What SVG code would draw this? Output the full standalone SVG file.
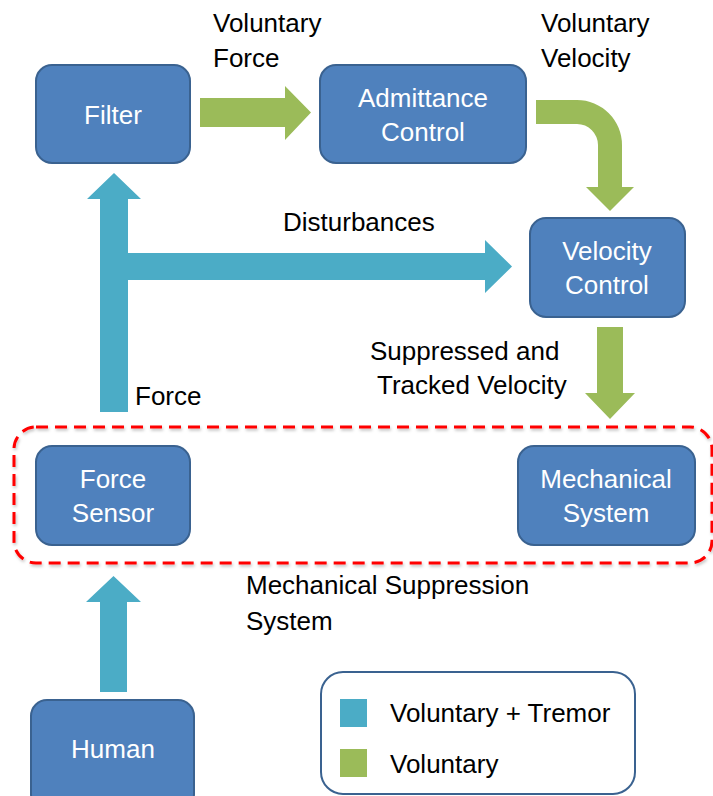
<svg xmlns="http://www.w3.org/2000/svg" width="713" height="796" viewBox="0 0 713 796">
  <style>
    .node { fill: #4F81BD; stroke: #3A6290; stroke-width: 2; }
    .ntext { font-family: "Liberation Sans", Arial, sans-serif; font-size: 26px; fill: #FFFFFF; text-anchor: middle; }
    .label { font-family: "Liberation Sans", Arial, sans-serif; font-size: 26px; fill: #000000; }
    .trem { fill: #4BACC6; }
    .vol { fill: #9BBB59; }
  </style>
  <defs>
    <filter id="soft" x="-5%" y="-5%" width="110%" height="115%">
      <feDropShadow dx="1" dy="2" stdDeviation="1.5" flood-color="#000000" flood-opacity="0.25"/>
    </filter>
  </defs>
  <rect width="713" height="796" fill="#FFFFFF"/>

  <!-- connectors -->
  <g id="connectors">
    <!-- Filter -> Admittance Control -->
    <polygon class="vol" points="200,98 285,98 285,86 311,112.5 285,140 285,127 200,127"/>
    <!-- Admittance Control -> Velocity Control (bent) -->
    <path class="vol" d="M536,100 L577,100 A45,45 0 0 1 622,145 L622,187 L634,187 L610,211 L586,187 L598,187 L598,145 A21,21 0 0 0 577,124 L536,124 Z"/>
    <!-- Velocity Control -> Mechanical System -->
    <polygon class="vol" points="597,327 623,327 623,393 635,393 610,419 585,393 597,393"/>
    <!-- Force Sensor -> Filter, with Disturbances branch -->
    <path class="trem" d="M100,412 L100,199 L87,199 L114,173 L141,199 L128,199 L128,253 L485,253 L485,240 L512,266.5 L485,293 L485,280 L128,280 L128,412 Z"/>
    <!-- Human -> Force Sensor -->
    <polygon class="trem" points="100,692 100,602 86,602 113.5,576 141,602 127,602 127,692"/>
  </g>

  <!-- mechanical suppression system boundary -->
  <g id="suppression-system">
    <rect x="14" y="427" width="698" height="136" rx="22" ry="22" fill="none" stroke="#FF0000" stroke-width="3" stroke-dasharray="12,7" filter="url(#soft)"/>
    <text class="label" x="246" y="594">Mechanical Suppression</text>
    <text class="label" x="246" y="630">System</text>
  </g>

  <!-- nodes -->
  <g id="filter">
    <rect class="node" x="36" y="65" width="154" height="98" rx="16"/>
    <text class="ntext" x="113" y="124">Filter</text>
  </g>
  <g id="admittance-control">
    <rect class="node" x="320" y="65" width="206" height="98" rx="16"/>
    <text class="ntext" x="423" y="107">Admittance</text>
    <text class="ntext" x="423" y="141">Control</text>
  </g>
  <g id="velocity-control">
    <rect class="node" x="530" y="218" width="155" height="99" rx="16"/>
    <text class="ntext" x="607" y="260">Velocity</text>
    <text class="ntext" x="607" y="294">Control</text>
  </g>
  <g id="force-sensor">
    <rect class="node" x="36" y="446" width="154" height="99" rx="16"/>
    <text class="ntext" x="113" y="488">Force</text>
    <text class="ntext" x="113" y="522">Sensor</text>
  </g>
  <g id="mechanical-system">
    <rect class="node" x="518" y="446" width="177" height="99" rx="16"/>
    <text class="ntext" x="606" y="488">Mechanical</text>
    <text class="ntext" x="606" y="522">System</text>
  </g>
  <g id="human">
    <rect class="node" x="31" y="700" width="163" height="110" rx="16"/>
    <text class="ntext" x="113" y="758">Human</text>
  </g>

  <!-- connector labels -->
  <g id="labels">
    <text class="label" x="213" y="32">Voluntary</text>
    <text class="label" x="213" y="67">Force</text>
    <text class="label" x="541" y="32">Voluntary</text>
    <text class="label" x="541" y="67">Velocity</text>
    <text class="label" x="283" y="231">Disturbances</text>
    <text class="label" x="370" y="360">Suppressed and</text>
    <text class="label" x="377" y="394">Tracked Velocity</text>
    <text class="label" x="135" y="405">Force</text>
  </g>

  <!-- legend -->
  <g id="legend">
    <rect x="321" y="672" width="314" height="122" rx="22" fill="#FFFFFF" stroke="#3A6290" stroke-width="2"/>
    <rect class="trem" x="340" y="699" width="27" height="28"/>
    <text class="label" x="390" y="722">Voluntary + Tremor</text>
    <rect class="vol" x="340" y="749" width="27" height="28"/>
    <text class="label" x="390" y="773">Voluntary</text>
  </g>
</svg>
